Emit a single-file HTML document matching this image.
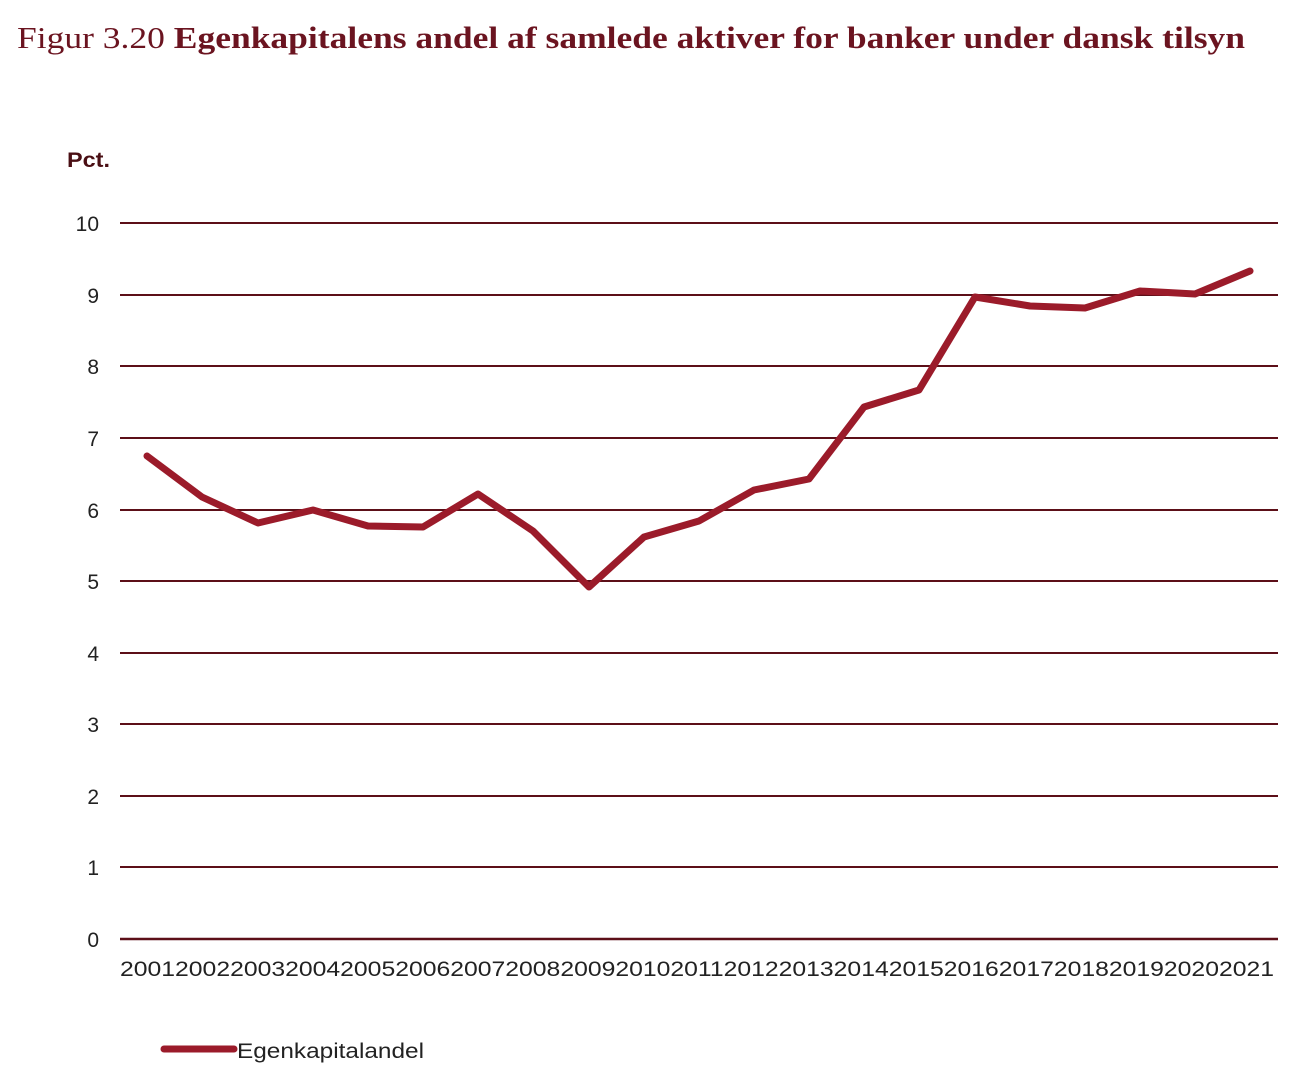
<!DOCTYPE html>
<html><head><meta charset="utf-8"><style>
html,body{margin:0;padding:0;background:#fff;width:1304px;height:1082px;overflow:hidden}
</style></head><body>
<svg width="1304" height="1082" xmlns="http://www.w3.org/2000/svg">
<text x="17" y="48" font-family="Liberation Serif, serif" font-size="31" fill="#6b1420" textLength="1228" lengthAdjust="spacingAndGlyphs">Figur 3.20 <tspan font-weight="bold">Egenkapitalens andel af samlede aktiver for banker under dansk tilsyn</tspan></text>
<text x="67" y="167" font-family="Liberation Sans, sans-serif" font-size="21" font-weight="bold" fill="#4a0f14" textLength="43" lengthAdjust="spacingAndGlyphs">Pct.</text>
<g stroke="#5c0f18" stroke-width="2">
<line x1="120" x2="1278" y1="223" y2="223"/><line x1="120" x2="1278" y1="295" y2="295"/>
<line x1="120" x2="1278" y1="366" y2="366"/><line x1="120" x2="1278" y1="438" y2="438"/>
<line x1="120" x2="1278" y1="510" y2="510"/><line x1="120" x2="1278" y1="581" y2="581"/>
<line x1="120" x2="1278" y1="653" y2="653"/><line x1="120" x2="1278" y1="724" y2="724"/>
<line x1="120" x2="1278" y1="796" y2="796"/><line x1="120" x2="1278" y1="867" y2="867"/>
<line x1="120" x2="1278" y1="939" y2="939" stroke-width="2.5"/>
</g>
<g font-family="Liberation Sans, sans-serif" font-size="21" fill="#222" text-anchor="end">
<text x="99" y="231">10</text><text x="99" y="303">9</text><text x="99" y="374">8</text>
<text x="99" y="446">7</text><text x="99" y="518">6</text><text x="99" y="589">5</text>
<text x="99" y="661">4</text><text x="99" y="732">3</text><text x="99" y="804">2</text>
<text x="99" y="875">1</text><text x="99" y="947">0</text>
</g>
<text x="120" y="976" font-family="Liberation Sans, sans-serif" font-size="21" fill="#222" textLength="1154" lengthAdjust="spacingAndGlyphs">200120022003200420052006200720082009201020112012201320142015201620172018201920202021</text>
<polyline fill="none" stroke="#9b1b2a" stroke-width="7" stroke-linejoin="round" stroke-linecap="round"
points="147,456 202,497 258,523 313,510 368,526 423,527 478,494 533,531 589,587 644,537 699,521 754,490 809,479 864,407 919,390 975,297 1030,306 1085,308 1140,291 1195,294 1250,271"/>
<line x1="164" x2="234" y1="1049" y2="1049" stroke="#9b1b2a" stroke-width="7" stroke-linecap="round"/>
<text x="237" y="1058" font-family="Liberation Sans, sans-serif" font-size="21" fill="#222" textLength="187" lengthAdjust="spacingAndGlyphs">Egenkapitalandel</text>
</svg>
</body></html>
